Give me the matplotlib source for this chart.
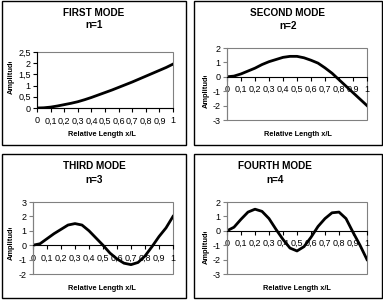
import numpy as np
import matplotlib.pyplot as plt
from matplotlib.patches import Rectangle
from matplotlib.transforms import Bbox

plt.rcParams['font.family'] = ['Liberation Sans', 'DejaVu Sans']

# relative position along the beam
x = [0.0, 0.05, 0.1, 0.15, 0.2, 0.25, 0.3, 0.35, 0.4, 0.45, 0.5,
     0.55, 0.6, 0.65, 0.7, 0.75, 0.8, 0.85, 0.9, 0.95, 1.0]

# mode shapes
mode1 = [0.0, 0.01, 0.04, 0.09, 0.15, 0.21, 0.28, 0.37, 0.47, 0.58, 0.69,
         0.80, 0.92, 1.04, 1.16, 1.29, 1.42, 1.55, 1.68, 1.81, 1.96]
mode2 = [0.0, 0.05, 0.2, 0.4, 0.6, 0.85, 1.05, 1.2, 1.35, 1.42, 1.42,
         1.32, 1.15, 0.95, 0.62, 0.25, -0.2, -0.65, -1.1, -1.55, -2.0]
mode3 = [0.0, 0.1, 0.45, 0.8, 1.1, 1.4, 1.5, 1.4, 1.0, 0.5, 0.0,
         -0.55, -0.95, -1.25, -1.35, -1.2, -0.75, -0.1, 0.6, 1.2, 2.0]
mode4 = [0.0, 0.25, 0.8, 1.3, 1.5, 1.35, 0.85, 0.1, -0.6, -1.2, -1.4,
         -1.1, -0.45, 0.3, 0.85, 1.25, 1.3, 0.85, -0.1, -1.0, -2.0]

titles = ['FIRST MODE', 'SECOND MODE', 'THIRD MODE', 'FOURTH MODE']
subtitles = ['n=1', 'n=2', 'n=3', 'n=4']
ylims = [(0, 2.5), (-3, 2), (-2, 3), (-3, 2)]
ysteps = [0.5, 1, 1, 1]
xticks = [0, 0.1, 0.2, 0.3, 0.4, 0.5, 0.6, 0.7, 0.8, 0.9, 1]

W, H = 383, 302
fig = plt.figure(figsize=(W / 100, H / 100), dpi=100)

def px_rect(l, t, r, b):
    return [l / W, 1 - b / H, (r - l) / W, (b - t) / H]

def fmt(v):
    return ('%g' % v).replace('.', ',')

# panel boxes: (left, top, right, bottom) in pixels
panels = [(2, 1, 186, 145), (194, 1, 382, 145), (2, 154, 186, 298), (194, 154, 382, 298)]
axboxes = [(37, 52, 173, 108), (227, 48, 367, 120), (33, 202, 173, 274), (227, 202, 367, 274)]
title_pos = [(94, 13, 25), (288, 13, 26), (94, 166, 180), (275, 166, 180)]
xlab_pos = [(102, 135), (298, 135), (102, 288), (297, 289)]
ylab_pos = [(11, 76), (206, 90), (11, 242), (206, 246)]

modes = [mode1, mode2, mode3, mode4]

for i in range(4):
    l, t, r, b = panels[i]
    fig.patches.append(Rectangle((l / W, 1 - b / H), (r - l) / W, (b - t) / H,
                                 transform=fig.transFigure, fill=False,
                                 ec='black', lw=1.0))
    ax = fig.add_axes(px_rect(*axboxes[i]))
    ax.plot(x, modes[i], color='black', lw=2)
    lo, hi = ylims[i]
    ax.set_xlim(0, 1)
    ax.set_ylim(lo, hi)
    yt = np.arange(lo, hi + 1e-9, ysteps[i])
    ax.set_yticks(yt)
    ax.set_yticklabels([fmt(v) for v in yt])
    ax.set_xticks(xticks)
    ax.set_xticklabels([fmt(v) for v in xticks])
    ax.tick_params(labelsize=6.5, length=3, width=0.8, pad=1.5, colors='black')
    ax.tick_params(axis='x', pad=3)
    for s in ['top', 'right']:
        ax.spines[s].set_visible(False)
    ax.add_patch(Rectangle((0, 0), 1, 1, transform=ax.transAxes, fill=False,
                           ec='#808080', lw=0.8, clip_on=False, zorder=0))
    if lo < 0:
        ax.spines['bottom'].set_position(('data', 0))
        ax.spines['left'].set_color('#808080')
        ax.tick_params(axis='y', color='#808080')
    ax.spines['bottom'].set_linewidth(0.8)
    ax.spines['left'].set_linewidth(0.8)

    tx, ty1, ty2 = title_pos[i]
    fig.text(tx / W, 1 - ty1 / H, titles[i], ha='center', va='center',
             fontsize=7.2, fontweight='bold')
    fig.text(tx / W, 1 - ty2 / H, subtitles[i], ha='center', va='center',
             fontsize=7.2, fontweight='bold')
    xx, xy = xlab_pos[i]
    fig.text(xx / W, 1 - xy / H, 'Relative Length x/L', ha='center',
             va='center', fontsize=5.3, fontweight='bold')
    yx, yy = ylab_pos[i]
    lab = fig.text(yx / W, 1 - yy / H, 'Amplitude', ha='center', va='center',
                   fontsize=5.4, fontweight='bold', rotation=90)
    # the label is cut off at its top end, as in the source
    lab.set_clip_box(Bbox([[0, H - (yy + 30)], [W, H - (yy - 14)]]))
    lab.set_clip_on(True)

fig.savefig('out.png', dpi=100)
